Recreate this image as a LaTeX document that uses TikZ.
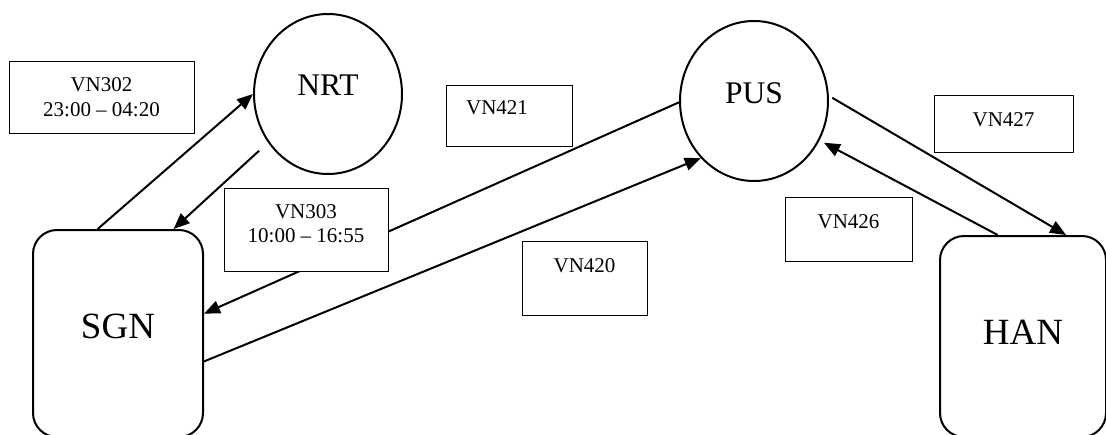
\documentclass[tikz,border=0pt]{standalone}
\usepackage{fontspec}
\setmainfont{Liberation Serif}
\usetikzlibrary{arrows.meta,shapes.geometric}
\begin{document}
\begin{tikzpicture}[x=1pt,y=-1pt,
  airport/.style={ellipse,draw,line width=2pt,minimum width=148pt,minimum height=160pt,inner sep=0pt},
  hub/.style={rectangle,draw,rounded corners=24pt,line width=2pt,inner sep=0pt},
  smallname/.style={inner sep=0pt,font=\fontsize{31.5}{36}\selectfont},
  bigname/.style={inner sep=0pt,font=\fontsize{37}{42}\selectfont},
  flightbox/.style={rectangle,draw,line width=1pt,fill=white,inner sep=0pt},
  flighttext/.style={align=center,inner sep=0pt,font=\fontsize{21}{24.5}\selectfont},
  route/.style={line width=2pt,-{Triangle[length=16pt,width=13pt]}},
]
\useasboundingbox (0,0) rectangle (1106,434);
\clip (0,0) rectangle (1106,434);

% airports
\node[airport,label={[smallname,yshift=9pt]center:NRT}] (nrt) at (328,94) {};
\node[airport,label={[smallname,yshift=8pt]center:PUS}] (pus) at (754,101) {};
\node[hub,minimum width=170pt,minimum height=207pt,label={[bigname,yshift=7.5pt]center:SGN}] (sgn) at (118,333.5) {};
\node[hub,minimum width=166pt,minimum height=201pt,label={[bigname,yshift=4.5pt]center:HAN}] (han) at (1023,336.5) {};

% routes
\draw[route] (sgn.101.5) -- (nrt.180);
\draw[route,shorten <=12pt] (nrt.219) -- (sgn.62.4);
\draw[route] (pus.181) -- (sgn.13.6);
\draw[route] (sgn.-18.5) -- (pus.227);
\draw[route,shorten <=4pt] (pus.4) -- (han.67.8);
\draw[route,shorten >=5pt] (han.104) -- (pus.-31);

% flight labels
\node[flightbox,minimum width=185pt,minimum height=72pt,
  label={[flighttext]center:VN302\\23:00 \textendash{} 04:20}] (f302) at (101.5,97) {};
\node[flightbox,minimum width=164pt,minimum height=83pt,
  label={[flighttext,yshift=6pt]center:VN303\\10:00 \textendash{} 16:55}] (f303) at (306,229.5) {};
\node[flightbox,minimum width=126pt,minimum height=61pt,
  label={[flighttext,xshift=-12pt,yshift=7.5pt]center:VN421}] (f421) at (509,115.5) {};
\node[flightbox,minimum width=125pt,minimum height=74pt,
  label={[flighttext,yshift=12pt]center:VN420}] (f420) at (584.5,278) {};
\node[flightbox,minimum width=127pt,minimum height=64pt,
  label={[flighttext,yshift=7pt]center:VN426}] (f426) at (848.5,229) {};
\node[flightbox,minimum width=139pt,minimum height=57pt,
  label={[flighttext,yshift=3.5pt]center:VN427}] (f427) at (1003.5,123.5) {};
\end{tikzpicture}
\end{document}
